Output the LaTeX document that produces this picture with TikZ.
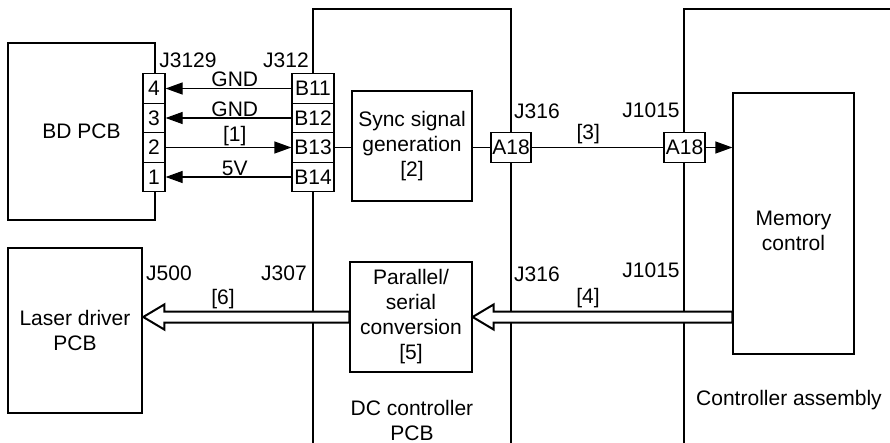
\documentclass[tikz,border=0pt]{standalone}
\usepackage{fontspec}
\setmainfont{Liberation Sans}
\usetikzlibrary{arrows.meta,calc}

\begin{document}
\begin{tikzpicture}[x=1pt,y=-1pt,
  font=\fontsize{21}{25}\selectfont,
  % Whole boards: heavy outline
  pcb/.style={draw,line width=2.5pt,rectangle,align=center,inner sep=0pt},
  % Function blocks inside a board
  blk/.style={draw,line width=1.2pt,rectangle,align=center,inner sep=0pt},
  % One cell of a connector, white so it breaks the board edge
  pin/.style={draw,fill=white,line width=1.2pt,rectangle,inner sep=0pt,
              minimum height=29.5},
  lbl/.style={inner sep=0pt},
  wire/.style={line width=1.2pt},
  arr/.style={wire,-{Triangle[length=17pt,width=12pt]}},
  % Hollow bus arrow outline
  bus/.style={draw,fill=white,line width=2pt,line join=miter}
]
  \useasboundingbox (0,0) rectangle (890,443);

  % ---- Boards running off the page ----
  \draw[line width=2.5pt] (313,443) -- (313,9) -- (511,9) -- (511,443);
  \draw[line width=2.5pt] (684,443) -- (684,9) -- (890,9);

  % ---- Boards and blocks ----
  \node[pcb,minimum width=147,minimum height=177] (bd)    at (81.5,131.5) {BD PCB};
  \node[pcb,minimum width=134,minimum height=165] (laser) at (75,330.5)   {Laser driver\\PCB};
  \node[blk,minimum width=120,minimum height=110] (sync)  at (412,146)    {Sync signal\\generation\\{[2]}};
  \node[blk,minimum width=122,minimum height=110] (par)   at (411,317)    {Parallel/\\serial\\conversion\\{[5]}};
  \node[blk,minimum width=121,minimum height=261] (mem)   at (793.5,223.5) {};
  \node[lbl] (memtxt) at (793.5,231) [align=center] {Memory\\control};

  % ---- Connectors ----
  \node[pin,minimum width=22] (p4) at (154,88.5)  {4};
  \node[pin,minimum width=22] (p3) at (154,118)   {3};
  \node[pin,minimum width=22] (p2) at (154,147.5) {2};
  \node[pin,minimum width=22] (p1) at (154,177)   {1};
  \node[pin,minimum width=42] (b11) at (313,88.5)  {B11};
  \node[pin,minimum width=42] (b12) at (313,118)   {B12};
  \node[pin,minimum width=42] (b13) at (313,147.5) {B13};
  \node[pin,minimum width=42] (b14) at (313,177)   {B14};
  \node[pin,minimum width=40] (a18l) at (511,147.5) {A18};
  \node[pin,minimum width=41] (a18r) at (684.5,147.5) {A18};

  % ---- Connector names and captions ----
  \node[lbl] (j3129) at (188,60)  {J3129};
  \node[lbl] (j312)  at (286,60)  {J312};
  \node[lbl] (j316a) at (537,111) {J316};
  \node[lbl] (j1015a) at (651,110) {J1015};
  \node[lbl] (j500)  at (169,273) {J500};
  \node[lbl] (j307)  at (284,273) {J307};
  \node[lbl] (j316b) at (537,274) {J316};
  \node[lbl] (j1015b) at (651,270) {J1015};
  \node[lbl] (sig6)  at (223,299) {[6]};
  \node[lbl] (sig4)  at (588,298) {[4]};
  \node[lbl,align=center] (dccap) at (412,420) {DC controller\\PCB};
  \node[lbl] (ctlcap) at (789,400) {Controller assembly};

  % ---- BD signals ----
  \draw[arr] (b11.west) -- node[above,inner sep=1pt,pos=0.45]{GND} (p4.east);
  \draw[arr] (b12.west) -- node[above,inner sep=1pt,pos=0.45]{GND} (p3.east);
  \draw[arr] (p2.east)  -- node[above,inner sep=1pt,pos=0.55]{[1]} (b13.west);
  \draw[arr] (b14.west) -- node[above,inner sep=1pt,pos=0.45]{5V}  (p1.east);

  % ---- Sync path ----
  \draw[wire] (b13.east) -- (b13.east -| sync.west);
  \draw[wire] (sync.east |- a18l.west) -- (a18l.west);
  \draw[wire] (a18l.east) -- node[above,inner sep=3pt,pos=0.43]{[3]} (a18r.west);
  \draw[arr]  (a18r.east) -- (a18r.east -| mem.west);

  % ---- Video data buses ----
  \coordinate (t6) at (laser.east |- par.west);
  \coordinate (t4) at (par.east);
  \coordinate (s4) at (mem.west |- par.east);
  \draw[bus] (t6) -- ++(21,-12.5) -- ++(0,7) -- ($(par.west)+(0,-5.5)$)
             -- ($(par.west)+(0,5.5)$) -- ($(t6)+(21,5.5)$) -- ++(0,7) -- cycle;
  \draw[bus] (t4) -- ++(21,-12.5) -- ++(0,7) -- ($(s4)+(0,-5.5)$)
             -- ($(s4)+(0,5.5)$) -- ($(t4)+(21,5.5)$) -- ++(0,7) -- cycle;
\end{tikzpicture}
\end{document}
